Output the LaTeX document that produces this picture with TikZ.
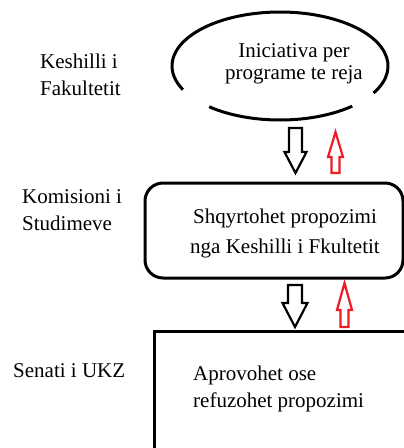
\documentclass[tikz,border=0pt]{standalone}
\usepackage{fontspec}
\setmainfont{Liberation Serif}
\usetikzlibrary{positioning,calc,shapes.geometric}
\definecolor{paintred}{HTML}{ED1C24}
\tikzset{
    box/.style={
        draw=black,
        line width=3pt
    },
    sidelabel/.style={
        font=\fontsize{21}{27}\selectfont,
        align=left,
        inner sep=0pt
    },
    boxtext/.style={
        font=\fontsize{21}{27}\selectfont,
        inner sep=0pt
    },
    pics/blockarrow/.style n args={4}{
        code={
            \draw[pic actions,line join=miter]
                (-#3,0) -- (#3,0) -- (#3,#2) -- (#4,#2)
                -- (0,#1) -- (-#4,#2) -- (-#3,#2) -- cycle;
        }
    }
}
\begin{document}
\begin{tikzpicture}[x=1pt,y=-1pt]

    \useasboundingbox (0,0) rectangle (404,448);
    \clip (0,0) rectangle (404,448);

    % Elipsa
    \node[ellipse,minimum width=216pt,minimum height=108pt,inner sep=0pt]
        (ini) at (280,66) {};
    \draw[box]
        ([shift={(330:108pt and 54pt)}]ini.center)
        arc[start angle=330,end angle=566,x radius=108pt,y radius=54pt];
    \draw[box]
        ([shift={(229:108pt and 54pt)}]ini.center)
        arc[start angle=229,end angle=312,x radius=108pt,y radius=54pt];

    % Kutia e rrumbullaket
    \node[box,rounded corners=18pt,minimum width=258pt,minimum height=95pt]
        (shq) at (274,230.5) {};

    % Kutia e fundit
    \node[box,anchor=north west,minimum width=300pt,minimum height=200pt]
        (apr) at (153,330) {};

    % Tekstet
    \node[boxtext,align=center,font=\fontsize{21}{22}\selectfont]
        (initext) at (294,64)
        {Iniciativa per\\programe te reja};

    \node[boxtext,align=center,font=\fontsize{21}{30}\selectfont]
        (shqtext) at (285,233)
        {Shqyrtohet propozimi\\nga Keshilli i Fkultetit};

    \node[boxtext,align=left,anchor=west]
        (aprtext) at (193,388.7)
        {Aprovohet ose\\refuzohet propozimi};

    % Etiketat
    \node[sidelabel,anchor=west]
        (fak) at (40,74.5)
        {Keshilli i\\Fakultetit};

    \node[sidelabel,anchor=west]
        (kom) at (22,210)
        {Komisioni i\\Studimeve};

    \node[sidelabel,anchor=base west]
        (sen) at (13,377)
        {Senati i UKZ};

    % Shigjetat
    \pic[draw=black,line width=2.2pt]
        at (295.5,128) {blockarrow={45}{24}{6.5}{11}};
    \pic[draw=paintred,line width=2.2pt,yscale=-1]
        at (335.5,173) {blockarrow={41}{16}{4}{7.5}};

    \pic[draw=black,line width=2.2pt]
        at (295,285) {blockarrow={42}{18}{7}{12.5}};
    \pic[draw=paintred,line width=2.2pt,yscale=-1]
        at (344.5,327) {blockarrow={44}{17}{4}{7.5}};

\end{tikzpicture}
\end{document}
